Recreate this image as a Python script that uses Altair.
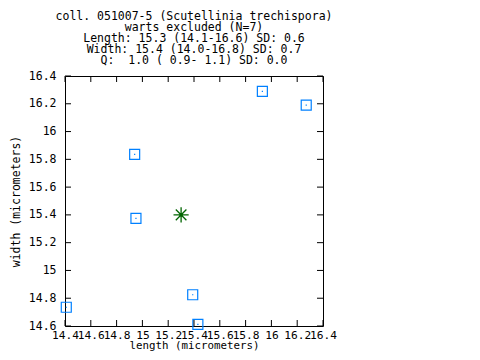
import altair as alt
import pandas as pd

lengths = [14.41, 14.94, 14.95, 15.39, 15.43, 15.93, 16.27]
widths = [14.735, 15.835, 15.375, 14.825, 14.612, 16.29, 16.19]
mean_length = [15.3]
mean_width = [15.4]
x_ticks = [14.4, 14.6, 14.8, 15.0, 15.2, 15.4, 15.6, 15.8, 16.0, 16.2, 16.4]
y_ticks = [14.6, 14.8, 15.0, 15.2, 15.4, 15.6, 15.8, 16.0, 16.2, 16.4]
title_lines = [
    "coll. 051007-5 (Scutellinia trechispora)",
    "warts excluded (N=7)",
    "Length: 15.3 (14.1-16.6) SD: 0.6",
    " Width: 15.4 (14.0-16.8) SD: 0.7",
    "     Q:  1.0 ( 0.9- 1.1) SD: 0.0",
]

W, H = 258, 250
FONT = "DejaVu Sans Mono"
BLUE = "#0080ff"
GREEN = "#006400"

pts = pd.DataFrame({"length": lengths, "width": widths})
mean = pd.DataFrame({"length": mean_length, "width": mean_width})
xt = pd.DataFrame({"length": x_ticks})
yt = pd.DataFrame({"width": y_ticks})

xscale = alt.Scale(domain=[14.4, 16.4], nice=False, zero=False)
yscale = alt.Scale(domain=[14.6, 16.4], nice=False, zero=False)

xaxis = alt.Axis(values=x_ticks, ticks=False, domain=False, grid=False,
                 labelOverlap=False, labelExpr="format(datum.value, '~g')",
                 labelFont=FONT, labelFontSize=11.2, labelColor="black",
                 labelPadding=3, title="length (micrometers)",
                 titleFont=FONT, titleFontSize=10.8, titleFontWeight="normal",
                 titlePadding=-1, labelFlush=False, labelBound=False)
yaxis = alt.Axis(values=y_ticks, ticks=False, domain=False, grid=False,
                 labelOverlap=False, labelExpr="format(datum.value, '~g')",
                 labelFont=FONT, labelFontSize=11.5, labelColor="black",
                 labelPadding=9, title="width (micrometers)",
                 titleFont=FONT, titleFontSize=11.5, titleFontWeight="normal",
                 titlePadding=7, labelFlush=False, labelBound=False)

X = alt.X("length:Q", scale=xscale, axis=xaxis)
Y = alt.Y("width:Q", scale=yscale, axis=yaxis)

base = alt.Chart(pts).mark_point(shape="square", filled=False, size=100,
                                 color=BLUE, strokeWidth=1.2, opacity=1).encode(x=X, y=Y)
dots = alt.Chart(pts).mark_square(size=1.5, color=BLUE, opacity=1).encode(x=X, y=Y)
star = alt.Chart(mean).mark_point(
    shape="M-1,0L1,0M0,-1L0,1M-0.7,-0.7L0.7,0.7M-0.7,0.7L0.7,-0.7",
    size=230, color=GREEN, strokeWidth=1.3, filled=False, opacity=1).encode(x=X, y=Y)
star_dot = alt.Chart(mean).mark_circle(size=8, color=GREEN, opacity=1).encode(x=X, y=Y)

xt_bot = alt.Chart(xt).mark_rule(color="black").encode(
    x=X, y=alt.value(H), y2=alt.value(H - 6))
xt_top = alt.Chart(xt).mark_rule(color="black").encode(
    x=X, y=alt.value(0), y2=alt.value(6))
yt_left = alt.Chart(yt).mark_rule(color="black").encode(
    y=Y, x=alt.value(0), x2=alt.value(6))
yt_right = alt.Chart(yt).mark_rule(color="black").encode(
    y=Y, x=alt.value(W), x2=alt.value(W - 6))

NBSP = "\u00a0"
title_text = [t.replace(" ", NBSP) for t in title_lines]

chart = alt.layer(base, dots, star, star_dot, xt_bot, xt_top, yt_left, yt_right).properties(
    width=W, height=H,
    title=alt.Title(text=title_text, font=FONT, fontSize=11.5, fontWeight="normal",
                    lineHeight=11, anchor="middle", offset=4, color="black"),
    autosize=alt.AutoSizeParams(type="none"),
    padding={"left": 57, "top": 68, "right": 149, "bottom": 26},
).configure(background="white").configure_view(stroke="black", strokeWidth=1)

chart.save("out.html", embed_options={"renderer": "svg", "actions": False})
